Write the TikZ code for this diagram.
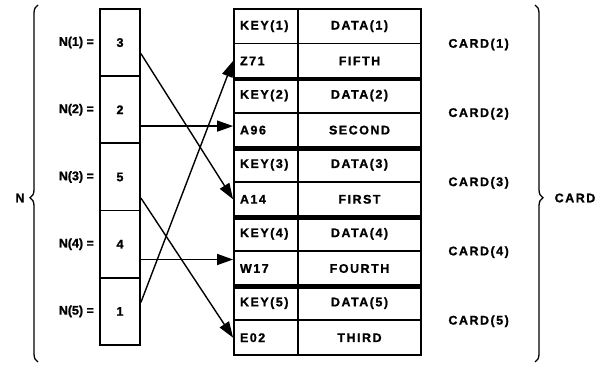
\documentclass[tikz,border=0pt]{standalone}
\usepackage{fontspec}
\setmainfont{Liberation Sans}[BoldFeatures={FakeBold=1.2}]
\newfontfamily\widefont{Liberation Sans}[LetterSpace=12,BoldFeatures={FakeBold=1.2,LetterSpace=12}]
\usetikzlibrary{positioning,arrows.meta,decorations.pathreplacing}

\begin{document}
\begin{tikzpicture}
[x=1pt,y=1pt,
 txt/.style={font=\widefont\bfseries\fontsize{12.5}{14}\selectfont},
 lbl/.style={font=\bfseries\fontsize{12.5}{14}\selectfont,inner sep=0pt},
 cell/.style={draw,line width=1.8pt,minimum width=40pt,minimum height=67.2pt,inner sep=0pt,txt},
 keycell/.style={draw,line width=1.8pt,text width=52pt,inner xsep=6pt,inner ysep=0pt,minimum height=34.6pt,align=left,txt},
 datacell/.style={draw,line width=1.8pt,minimum width=123pt,minimum height=34.6pt,inner sep=0pt,txt},
 arr/.style={-{Triangle[length=16pt,width=11pt]},line width=1.4pt},
 br/.style={decorate,decoration={brace,amplitude=8pt},line width=1.3pt}]
\useasboundingbox (0,0) rectangle (610,366);

\node[cell] (n1) at (120,323.4) {3};
\node[cell] (n2) at (120,256.2) {2};
\node[cell] (n3) at (120,189) {5};
\node[cell] (n4) at (120,121.8) {4};
\node[cell] (n5) at (120,54.6) {1};
\node[lbl,left=5pt of n1] (l1) {N(1) =};
\node[lbl,left=5pt of n2] (l2) {N(2) =};
\node[lbl,left=5pt of n3] (l3) {N(3) =};
\node[lbl,left=5pt of n4] (l4) {N(4) =};
\node[lbl,left=5pt of n5] (l5) {N(5) =};

\node[keycell] (k1) at (266,339.7) {KEY(1)};
\node[datacell] (d1) at (359.5,339.7) {DATA(1)};
\node[keycell] (a1) at (266,305.1) {Z71};
\node[datacell] (b1) at (359.5,305.1) {FIFTH};
\node[keycell] (k2) at (266,270.5) {KEY(2)};
\node[datacell] (d2) at (359.5,270.5) {DATA(2)};
\node[keycell] (a2) at (266,235.9) {A96};
\node[datacell] (b2) at (359.5,235.9) {SECOND};
\node[keycell] (k3) at (266,201.3) {KEY(3)};
\node[datacell] (d3) at (359.5,201.3) {DATA(3)};
\node[keycell] (a3) at (266,166.7) {A14};
\node[datacell] (b3) at (359.5,166.7) {FIRST};
\node[keycell] (k4) at (266,132.1) {KEY(4)};
\node[datacell] (d4) at (359.5,132.1) {DATA(4)};
\node[keycell] (a4) at (266,97.5) {W17};
\node[datacell] (b4) at (359.5,97.5) {FOURTH};
\node[keycell] (k5) at (266,62.9) {KEY(5)};
\node[datacell] (d5) at (359.5,62.9) {DATA(5)};
\node[keycell] (a5) at (266,28.3) {E02};
\node[datacell] (b5) at (359.5,28.3) {THIRD};

\node[txt,anchor=west,right=23pt of d1.south east] (c1) {CARD(1)};
\node[txt,anchor=west,right=23pt of d2.south east] (c2) {CARD(2)};
\node[txt,anchor=west,right=23pt of d3.south east] (c3) {CARD(3)};
\node[txt,anchor=west,right=23pt of d4.south east] (c4) {CARD(4)};
\node[txt,anchor=west,right=23pt of d5.south east] (c5) {CARD(5)};

\coordinate (nb) at (38,4);
\coordinate (nt) at (38,361);
\coordinate (ct) at (535,361);
\coordinate (cb) at (535,4);
\node[txt] (nn) at (20,168) {N};
\node[txt] (cc) at (575,168) {CARD};
\draw[br,decoration={aspect=0.46}] (nb) -- (nt);
\draw[br,decoration={aspect=0.54}] (ct) -- (cb);

\foreach \from/\to in {a1/b1,a2/b2,a3/b3,a4/b4}
\draw[line width=4.5pt] (\from.south west) -- (\to.south east);

\draw[arr] ([yshift=-11pt]n1.east) -- (a3.west);
\draw[arr] ([yshift=4pt]n2.east |- a2.west) -- ([yshift=4pt]a2.west);
\draw[arr] ([yshift=-21pt]n3.east) -- (a5.west);
\draw[arr] ([yshift=9pt]n4.east |- a4.west) -- ([yshift=9pt]a4.west);
\draw[arr] ([yshift=9pt]n5.east) -- (a1.west);
\end{tikzpicture}
\end{document}
